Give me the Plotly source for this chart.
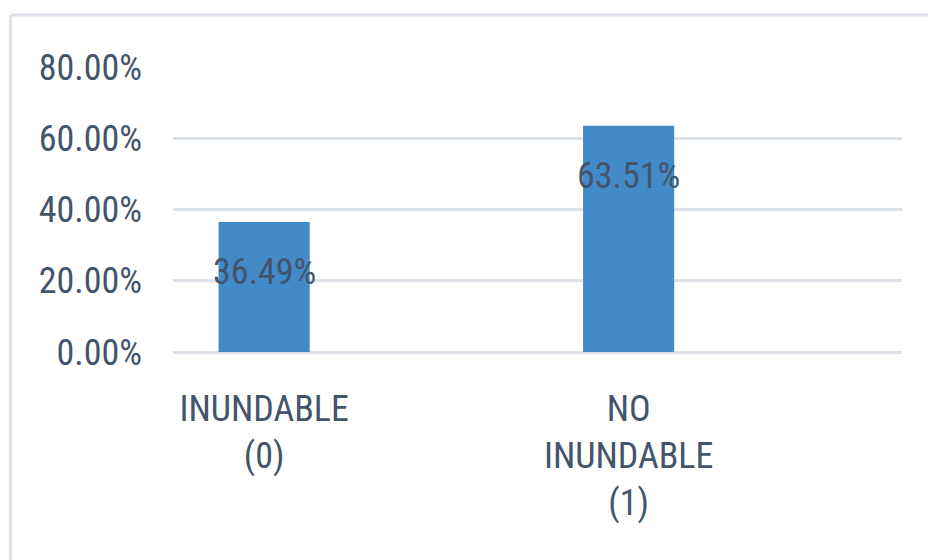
import plotly.graph_objects as go

# Share of plots by flood condition
categories = ["INUNDABLE<br>(0)", "NO<br>INUNDABLE<br>(1)"]
positions = [0, 1]
shares = [0.3649, 0.6351]
y_ticks = [0.0, 0.2, 0.4, 0.6, 0.8]

TEXT = "#44546A"
BAR = "#438AC9"
GRID = "#DDE2E9"
FONT = "Roboto Condensed, Liberation Sans Narrow, sans-serif"
FSIZE = 36

W, H = 928, 560
L, R, T, B = 173, 26, 67, 208
plot_w = W - L - R
plot_h = H - T - B

fig = go.Figure()
fig.add_trace(go.Bar(
    x=positions, y=shares, width=0.25,
    marker=dict(color=BAR, line=dict(width=0)),
    hoverinfo="skip",
))

# Value labels just under the top of each bar
for xpos, v in zip(positions, shares):
    fig.add_annotation(
        x=xpos, y=v, xref="x", yref="y",
        text=f"{v * 100:.2f}%", showarrow=False,
        yanchor="middle", xanchor="center", yshift=-50,
        font=dict(family=FONT, size=FSIZE, color=TEXT),
    )

# Outer chart frame (top and left edges)
fx0 = (10.5 - L) / plot_w
fx1 = (W + 5 - L) / plot_w
fy0 = (H - (H + 5) - B) / plot_h
fy1 = (H - 15 - B) / plot_h
fig.add_shape(type="line", xref="paper", yref="paper",
              x0=fx0, x1=fx1, y0=fy1, y1=fy1,
              line=dict(color=GRID, width=3))
fig.add_shape(type="line", xref="paper", yref="paper",
              x0=fx0, x1=fx0, y0=fy0, y1=fy1,
              line=dict(color=GRID, width=3))

fig.update_layout(
    width=W, height=H,
    margin=dict(l=L, r=R, t=T, b=B),
    paper_bgcolor="white", plot_bgcolor="white",
    showlegend=False,
    font=dict(family=FONT, size=FSIZE, color=TEXT),
    xaxis=dict(
        range=[-0.25, 1.75], tickvals=positions, ticktext=categories,
        showgrid=False, zeroline=False, showline=False,
        ticks="", ticklabelstandoff=32,
        tickfont=dict(family=FONT, size=FSIZE, color=TEXT),
    ),
    yaxis=dict(
        range=[0, 0.8], tickvals=y_ticks, tickformat=".2%",
        showgrid=True, gridcolor=GRID, gridwidth=3,
        zeroline=True, zerolinecolor=GRID, zerolinewidth=3,
        showline=False, ticks="", ticklabelstandoff=30,
        tickfont=dict(family=FONT, size=FSIZE, color=TEXT),
    ),
)

fig.write_html("out.html")
